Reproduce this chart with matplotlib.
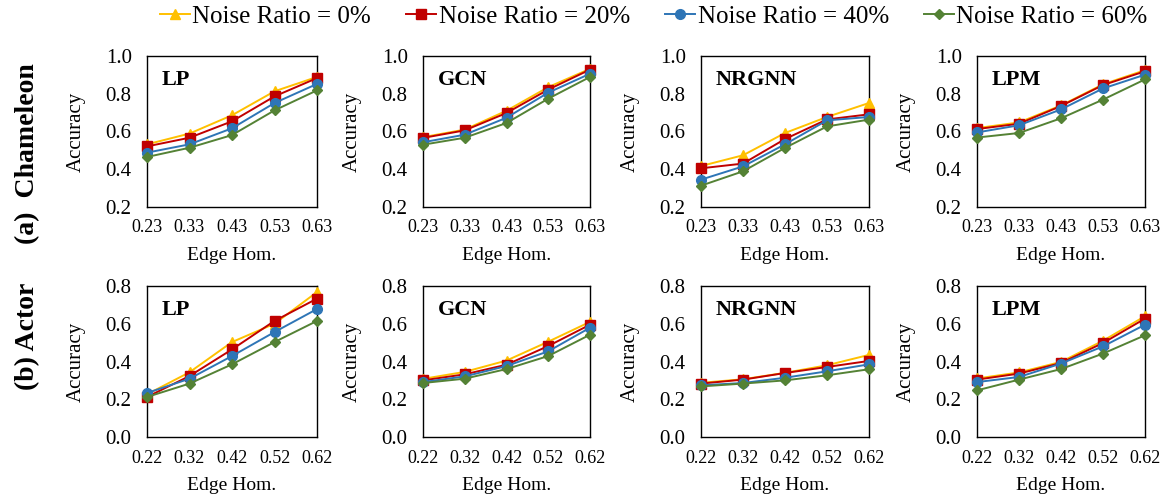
import matplotlib
matplotlib.use("Agg")
import matplotlib.pyplot as plt

plt.rcParams["font.family"] = ["Liberation Serif", "DejaVu Serif"]

# x categories
cham_x = ["0.23", "0.33", "0.43", "0.53", "0.63"]
actor_x = ["0.22", "0.32", "0.42", "0.52", "0.62"]
models = ["LP", "GCN", "NRGNN", "LPM"]
noise_labels = ["Noise Ratio = 0%", "Noise Ratio = 20%", "Noise Ratio = 40%", "Noise Ratio = 60%"]

# Chameleon accuracies: [model][noise]
cham_lp = [
    [0.532, 0.589, 0.686, 0.813, 0.889],
    [0.521, 0.567, 0.654, 0.786, 0.883],
    [0.488, 0.532, 0.617, 0.751, 0.852],
    [0.465, 0.514, 0.581, 0.712, 0.818],
]
cham_gcn = [
    [0.570, 0.610, 0.710, 0.835, 0.932],
    [0.566, 0.606, 0.698, 0.822, 0.928],
    [0.543, 0.583, 0.673, 0.806, 0.906],
    [0.530, 0.567, 0.645, 0.774, 0.889],
]
cham_nrgnn = [
    [0.417, 0.474, 0.592, 0.677, 0.751],
    [0.405, 0.430, 0.560, 0.664, 0.691],
    [0.345, 0.415, 0.532, 0.659, 0.677],
    [0.313, 0.389, 0.513, 0.627, 0.663],
]
cham_lpm = [
    [0.618, 0.648, 0.738, 0.850, 0.925],
    [0.613, 0.641, 0.735, 0.846, 0.919],
    [0.595, 0.633, 0.717, 0.828, 0.901],
    [0.568, 0.592, 0.670, 0.769, 0.876],
]

# Actor accuracies: [model][noise]
actor_lp = [
    [0.226, 0.343, 0.503, 0.600, 0.768],
    [0.212, 0.323, 0.464, 0.615, 0.733],
    [0.233, 0.309, 0.429, 0.556, 0.678],
    [0.212, 0.283, 0.385, 0.503, 0.615],
]
actor_gcn = [
    [0.308, 0.345, 0.405, 0.505, 0.610],
    [0.300, 0.332, 0.383, 0.482, 0.595],
    [0.291, 0.321, 0.376, 0.454, 0.579],
    [0.286, 0.309, 0.360, 0.429, 0.542],
]
actor_nrgnn = [
    [0.287, 0.306, 0.340, 0.380, 0.435],
    [0.283, 0.304, 0.339, 0.371, 0.403],
    [0.274, 0.286, 0.314, 0.348, 0.385],
    [0.268, 0.283, 0.300, 0.327, 0.359],
]
actor_lpm = [
    [0.310, 0.342, 0.398, 0.510, 0.640],
    [0.304, 0.336, 0.392, 0.498, 0.627],
    [0.291, 0.318, 0.389, 0.480, 0.595],
    [0.247, 0.304, 0.360, 0.442, 0.539],
]

colors = ["#FFC000", "#C00000", "#2E75B6", "#548235"]
markers = ["^", "s", "o", "D"]
msizes = [7, 7, 7, 5]

W, H = 1164, 498
fig = plt.figure(figsize=(W / 100, H / 100), dpi=100)

# axes boxes in pixels (left, right) and (top, bottom)
col_px = [(147, 317), (423, 590), (701, 869), (977, 1145)]
row_px = [(56, 207), (286, 437)]
row_data = [
    (cham_x, [cham_lp, cham_gcn, cham_nrgnn, cham_lpm], (0.2, 1.0), [0.2, 0.4, 0.6, 0.8, 1.0]),
    (actor_x, [actor_lp, actor_gcn, actor_nrgnn, actor_lpm], (0.0, 0.8), [0.0, 0.2, 0.4, 0.6, 0.8]),
]

handles = []
for r, (xlabels, data, ylim, yticks) in enumerate(row_data):
    top, bot = row_px[r]
    for c, (l, rgt) in enumerate(col_px):
        w, h = rgt - l, bot - top
        ax = fig.add_axes([l / W, (H - bot) / H, w / W, h / H])
        xs = list(range(len(xlabels)))
        for k in range(4):
            ln, = ax.plot(xs, data[c][k], color=colors[k], marker=markers[k],
                          markersize=msizes[k], linewidth=1.4, clip_on=False,
                          zorder=3 + k)
            if r == 0 and c == 0:
                handles.append(ln)
        ax.set_xlim(0, len(xlabels) - 1)
        ax.set_ylim(*ylim)
        ax.set_xticks(xs)
        ax.set_xticklabels(xlabels, fontsize=13)
        ax.set_yticks(yticks)
        ax.set_yticklabels(["%.1f" % v for v in yticks], fontsize=15)
        ax.tick_params(length=0, pad=11)
        ax.tick_params(axis="x", pad=9)
        for s in ax.spines.values():
            s.set_linewidth(1.0)
            s.set_color("black")
        ax.set_xlabel("Edge Hom.", fontsize=14)
        ax.set_ylabel("Accuracy", fontsize=15)
        ax.xaxis.set_label_coords(0.5, -40 / h)
        ax.yaxis.set_label_coords(-61 / w, 0.5)
        ax.text(15 / w, 1 - 14 / h, models[c], transform=ax.transAxes, fontsize=16,
                fontweight="bold", va="top", ha="left")

fig.text(28 / W, 1 - 154 / H, "(a)  Chameleon", rotation=90, fontsize=20,
         fontweight="bold", ha="center", va="center")
fig.text(28 / W, 1 - 336 / H, "(b) Actor", rotation=90, fontsize=20,
         fontweight="bold", ha="center", va="center")

fig.legend(handles, noise_labels, loc="center left", ncol=4,
           bbox_to_anchor=(160 / W, 1 - 17 / H), frameon=False, fontsize=18,
           borderpad=0, borderaxespad=0, handlelength=1.2, handletextpad=0.1,
           columnspacing=1.4)

fig.savefig("out.png", dpi=100)
